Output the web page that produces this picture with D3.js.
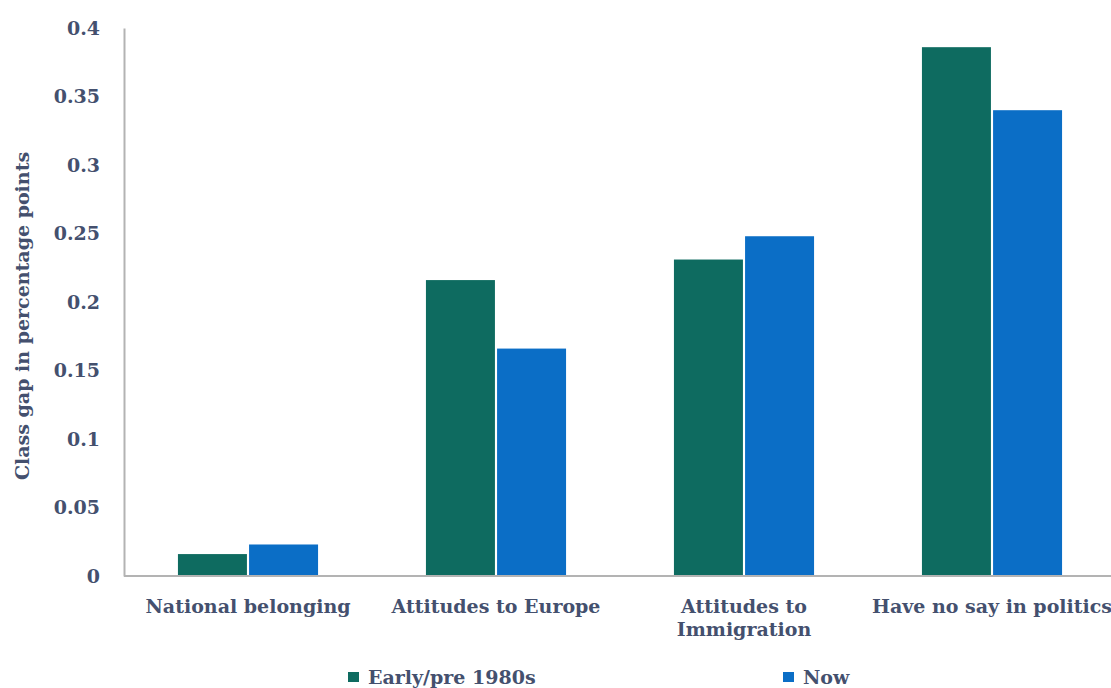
<!DOCTYPE html>
<html><head><meta charset="utf-8">
<script src="https://cdn.jsdelivr.net/npm/d3@7"></script>
<style>body{margin:0;background:#fff}svg{display:block}</style>
</head><body>
<script>
const categories = [["National belonging"], ["Attitudes to Europe"], ["Attitudes to", "Immigration"], ["Have no say in politics"]];
const seriesNames = ["Early/pre 1980s", "Now"];
const earlyValues = [0.016, 0.216, 0.231, 0.386];
const nowValues = [0.023, 0.166, 0.248, 0.340];
const yTicks = [0, 0.05, 0.1, 0.15, 0.2, 0.25, 0.3, 0.35, 0.4];
const yTickLabels = ["0", "0.05", "0.1", "0.15", "0.2", "0.25", "0.3", "0.35", "0.4"];
const colors = ["#0e6b60", "#0b6ec6"];
const textColor = "#44506e";

const W = 1111, H = 688;
const svg = d3.select("body").append("svg").attr("width", W).attr("height", H);
const font = "'DejaVu Serif', 'Liberation Serif', serif";
const fs = 19;

const catKeys = categories.map(c => c.join(" "));
const x0 = d3.scaleBand().domain(catKeys).range([124, 1116]).paddingInner(0.435).paddingOuter(0.2175);
const x1 = d3.scaleBand().domain(seriesNames).range([0, x0.bandwidth()]).paddingInner(0.03);
const y = d3.scaleLinear().domain([0, 0.4]).range([576, 28]);

const data = catKeys.map((k, i) => ({ k, vals: [earlyValues[i], nowValues[i]] }));

const g = svg.selectAll("g.cat").data(data).enter().append("g")
  .attr("transform", d => `translate(${x0(d.k)},0)`);
g.selectAll("rect").data(d => d.vals.map((v, j) => ({ v, s: seriesNames[j], j })))
  .enter().append("rect")
  .attr("x", d => x1(d.s)).attr("width", x1.bandwidth())
  .attr("y", d => y(d.v)).attr("height", d => y(0) - y(d.v))
  .attr("fill", d => colors[d.j]);

// y axis
const yAxis = d3.axisLeft(y).tickValues(yTicks).tickFormat((d, i) => yTickLabels[i]).tickSize(0).tickPadding(24);
const ya = svg.append("g").attr("transform", "translate(124,0)").call(yAxis);
ya.select(".domain").attr("stroke", "#b3b3b3").attr("stroke-width", 2);
ya.selectAll("text").attr("font-family", font).attr("font-weight", "bold").attr("font-size", fs).attr("fill", textColor);

// x axis
const xAxis = d3.axisBottom(x0).tickSize(0).tickFormat("");
const xa = svg.append("g").attr("transform", "translate(0,576)").call(xAxis);
xa.select(".domain").attr("stroke", "#b3b3b3").attr("stroke-width", 2).attr("d", "M124,0H1111");

svg.selectAll("text.xlab").data(categories).enter().append("text")
  .attr("class", "xlab")
  .attr("x", (d, i) => x0(catKeys[i]) + x0.bandwidth() / 2)
  .attr("y", 613)
  .attr("text-anchor", "middle")
  .attr("font-family", font).attr("font-weight", "bold").attr("font-size", fs).attr("fill", textColor)
  .selectAll("tspan").data(d => d).enter().append("tspan")
  .attr("x", function () { return d3.select(this.parentNode).attr("x"); })
  .attr("dy", (d, i) => i === 0 ? 0 : 23)
  .text(d => d);

// y title
svg.append("text")
  .attr("transform", "translate(29,316) rotate(-90)")
  .attr("text-anchor", "middle")
  .attr("font-family", font).attr("font-weight", "bold").attr("font-size", fs).attr("fill", textColor)
  .text("Class gap in percentage points");

// legend
const legX = [348, 783];
const leg = svg.selectAll("g.leg").data(seriesNames).enter().append("g")
  .attr("transform", (d, i) => `translate(${legX[i]},672)`);
leg.append("rect").attr("width", 11).attr("height", 10).attr("fill", (d, i) => colors[i]);
leg.append("text").attr("x", 20).attr("y", 12)
  .attr("font-family", font).attr("font-weight", "bold").attr("font-size", fs).attr("fill", textColor)
  .text(d => d);
</script>
</body></html>
